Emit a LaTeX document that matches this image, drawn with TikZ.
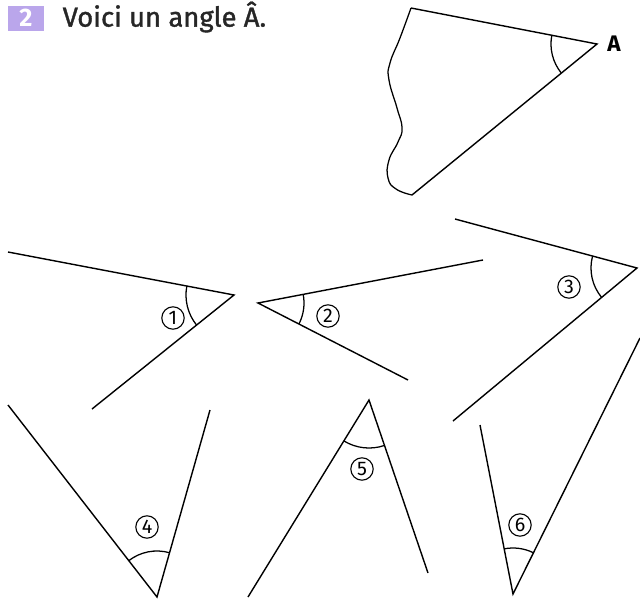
\documentclass[tikz,border=0pt]{standalone}
\usepackage{fontspec}
\setmainfont{Fira Sans}
\newfontfamily\titrefont[FakeBold=1.3]{Fira Sans}
\usetikzlibrary{angles}

\begin{document}
\begin{tikzpicture}[x=0.025cm, y=-0.025cm, line width=1pt,
  every node/.style={font=\fontsize{14}{16}\selectfont},
  num/.style={circle, draw, line width=0.8pt, inner sep=0pt, minimum size=0.56cm},
  arcmark/.style={draw, line width=0.9pt, angle radius=1.15cm}]
  \useasboundingbox (0,0) rectangle (640,601);
  % Header
  \node[fill=violet!45!blue!35, text=white, minimum width=0.9cm, minimum height=0.625cm,
        inner sep=0pt, font=\fontsize{18}{20}\selectfont\bfseries] (nb) at (26,18) {2};
  \node[anchor=west, inner sep=0pt, text=black!85, font=\fontsize{19.5}{22}\titrefont] (titre) at (62,17) {Voici un angle Â.};
  % Angle A
  \coordinate (A) at (597,44);
  \coordinate (Ah) at (411,8);
  \coordinate (Ab) at (412,195);
  \draw (Ah) -- (A) -- (Ab);
  \draw[line width=0.9pt] plot[smooth, tension=0.8] coordinates {(Ah) (400,38) (390,63) (389,80) (397,108) (402,128) (398,142) (389,160) (388,178) (396,189) (Ab)};
  \pic[arcmark] {angle=Ah--A--Ab};
  \node[font=\fontsize{16}{18}\selectfont\bfseries] (lA) at (614,44) {A};
  % 1
  \coordinate (S1) at (234,295);
  \coordinate (h1) at (8,252);
  \coordinate (b1) at (92,409);
  \draw (h1) -- (S1) -- (b1);
  \pic[arcmark, angle radius=1.2cm] {angle=h1--S1--b1};
  \node[num] (n1) at (173,318) {1};
  % 2
  \coordinate (S2) at (258,303);
  \coordinate (h2) at (483,260);
  \coordinate (b2) at (408,380);
  \draw (h2) -- (S2) -- (b2);
  \pic[arcmark] {angle=b2--S2--h2};
  \node[num] (n2) at (328,316) {2};
  % 3
  \coordinate (S3) at (637,268);
  \coordinate (h3) at (455,219);
  \coordinate (b3) at (453,421);
  \draw (h3) -- (S3) -- (b3);
  \pic[arcmark] {angle=h3--S3--b3};
  \node[num] (n3) at (569,287) {3};
  % 4
  \coordinate (S4) at (157,597);
  \coordinate (g4) at (8,405);
  \coordinate (d4) at (210,410);
  \draw (g4) -- (S4) -- (d4);
  \pic[arcmark] {angle=d4--S4--g4};
  \node[num] (n4) at (147,527) {4};
  % 5
  \coordinate (S5) at (369,400);
  \coordinate (g5) at (248,597);
  \coordinate (d5) at (428,573);
  \draw (g5) -- (S5) -- (d5);
  \pic[arcmark, angle radius=1.2cm] {angle=g5--S5--d5};
  \node[num] (n5) at (362,469) {5};
  % 6
  \coordinate (S6) at (513,594);
  \coordinate (g6) at (480,425);
  \coordinate (d6) at (640,338);
  \draw (g6) -- (S6) -- (d6);
  \pic[arcmark] {angle=d6--S6--g6};
  \node[num] (n6) at (520,525) {6};
\end{tikzpicture}
\end{document}
